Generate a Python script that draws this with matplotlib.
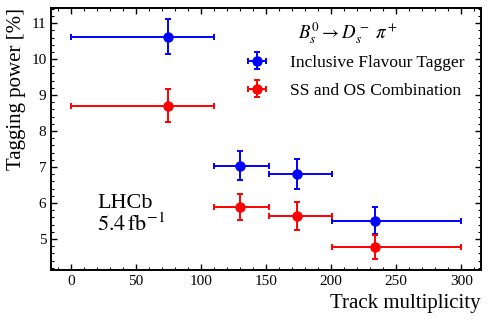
import matplotlib
matplotlib.use("Agg")
import matplotlib.pyplot as plt
from matplotlib.ticker import AutoMinorLocator, MultipleLocator

plt.rcParams['font.family'] = ['Liberation Serif', 'DejaVu Serif']
plt.rcParams['mathtext.fontset'] = 'stix'

# bin centres and edges (track multiplicity)
x_centres = [75, 130, 174, 234]
x_lo = [0, 110, 152, 201]
x_hi = [110, 152, 201, 300]

ift_power = [10.62, 7.04, 6.81, 5.51]
ift_err = [0.49, 0.41, 0.41, 0.37]
comb_power = [8.71, 5.89, 5.65, 4.78]
comb_err = [0.45, 0.37, 0.39, 0.34]

xerr = [[c - lo for c, lo in zip(x_centres, x_lo)],
        [hi - c for c, hi in zip(x_centres, x_hi)]]

fig, ax = plt.subplots(figsize=(4.89, 3.21), dpi=100)
fig.subplots_adjust(left=0.105, right=0.983, top=0.975, bottom=0.158)

ax.errorbar(x_centres, ift_power, xerr=xerr, yerr=ift_err, fmt='o', color='blue',
            markersize=6.5, capsize=2.5, elinewidth=1.4, capthick=1.4,
            label='Inclusive Flavour Tagger')
ax.errorbar(x_centres, comb_power, xerr=xerr, yerr=comb_err, fmt='o', color='red',
            markersize=6.5, capsize=2.5, elinewidth=1.4, capthick=1.4,
            label='SS and OS Combination')

ax.set_xlim(-15, 315)
ax.set_ylim(4.13, 11.42)
ax.xaxis.set_major_locator(MultipleLocator(50))
ax.yaxis.set_major_locator(MultipleLocator(1))
ax.xaxis.set_minor_locator(AutoMinorLocator(5))
ax.yaxis.set_minor_locator(AutoMinorLocator(5))
ax.tick_params(which='both', direction='in', top=True, right=True, labelsize=11)
ax.tick_params(which='major', length=4, width=1)
ax.tick_params(which='minor', length=2, width=0.8)
for s in ax.spines.values():
    s.set_linewidth(1.4)

ax.set_xlabel('Track multiplicity', fontsize=15, loc='right')
ax.set_ylabel('Tagging power [%]', fontsize=15, loc='top')

ax.text(20, 5.85, 'LHCb', fontsize=16)
ax.text(20, 5.22, r'$5.4\,\mathrm{fb}^{-1}$', fontsize=16)

# decay channel label above the legend
ax.text(0.69, 0.905, r'$B_s^0 \to D_s^-\;\pi^+$', transform=ax.transAxes,
        fontsize=13.5, ha='center', va='center')

ax.legend(loc='upper left', bbox_to_anchor=(0.456, 0.822), frameon=False,
          fontsize=12.5, handlelength=1.15, handletextpad=1.3,
          borderpad=0, borderaxespad=0, labelspacing=0.68)

fig.savefig('out.png', dpi=100)
